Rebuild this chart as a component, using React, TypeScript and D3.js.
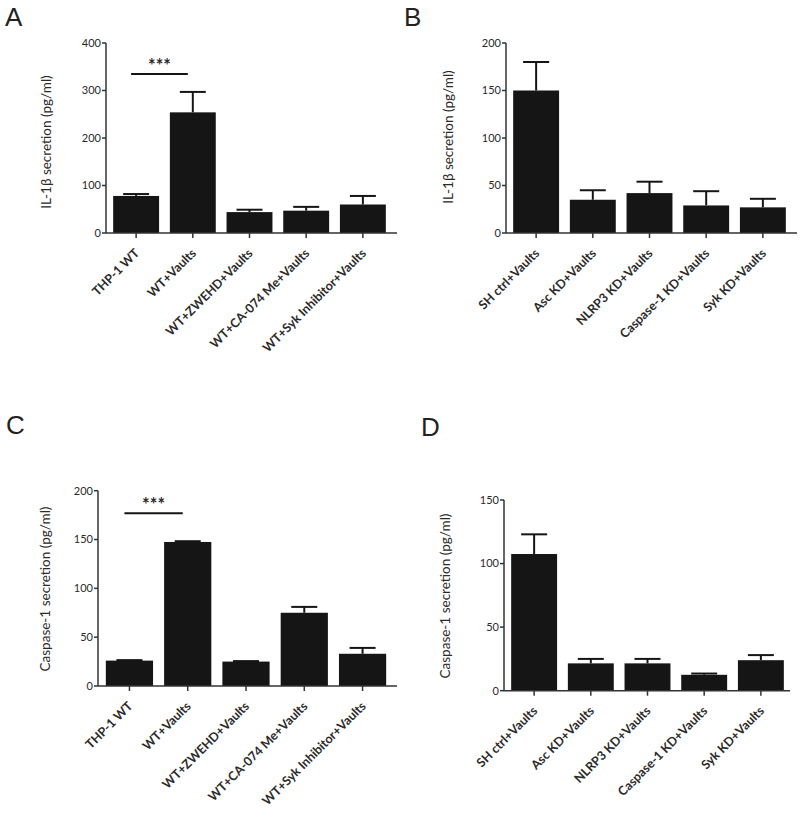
import React, { useEffect, useRef } from "react";
import * as d3 from "d3";

// ---- Data ----
const catsAC = ["THP-1 WT", "WT+Vaults", "WT+ZWEHD+Vaults", "WT+CA-074 Me+Vaults", "WT+Syk Inhibitor+Vaults"];
const catsBD = ["SH ctrl+Vaults", "Asc KD+Vaults", "NLRP3 KD+Vaults", "Caspase-1 KD+Vaults", "Syk KD+Vaults"];

const valA = [78, 254, 44, 47, 60];
const errA = [4, 43, 5, 8, 18];
const valB = [150, 35, 42, 29, 27];
const errB = [30, 10, 12, 15, 9];
const valC = [26, 147.5, 25, 75, 33];
const errC = [0.5, 0.8, 0.5, 6, 6];
const valD = [107.5, 21.5, 21.5, 12.5, 24];
const errD = [15.5, 3.5, 3.5, 1, 4];

const ticksA = [0, 100, 200, 300, 400];
const ticksB = [0, 50, 100, 150, 200];
const ticksC = [0, 50, 100, 150, 200];
const ticksD = [0, 50, 100, 150];

const labelIL = "IL-1β secretion (pg/ml)";
const labelCasp = "Caspase-1 secretion (pg/ml)";

type Panel = {
  letter: string; lx: number; ly: number;
  cats: string[]; vals: number[]; errs: number[]; ticks: number[];
  ylabel: string; ylx: number; yly: number;
  axisX: number; axisEnd: number; bandStart: number; bandEnd: number;
  yBottom: number; yTop: number;
  sig?: number; // value level of significance line
};

const panels: Panel[] = [
  { letter: "A", lx: 5, ly: 26, cats: catsAC, vals: valA, errs: errA, ticks: ticksA, ylabel: labelIL, ylx: 46, yly: 142,
    axisX: 106, axisEnd: 397, bandStart: 107.5, bandEnd: 391.5, yBottom: 233, yTop: 43, sig: 335 },
  { letter: "B", lx: 404, ly: 26, cats: catsBD, vals: valB, errs: errB, ticks: ticksB, ylabel: labelIL, ylx: 448, yly: 137,
    axisX: 506, axisEnd: 797, bandStart: 507.5, bandEnd: 791.5, yBottom: 233, yTop: 43 },
  { letter: "C", lx: 6, ly: 434, cats: catsAC, vals: valC, errs: errC, ticks: ticksC, ylabel: labelCasp, ylx: 45, yly: 589,
    axisX: 98, axisEnd: 397, bandStart: 100, bandEnd: 392, yBottom: 686, yTop: 490.7, sig: 177 },
  { letter: "D", lx: 421, ly: 436, cats: catsBD, vals: valD, errs: errD, ticks: ticksD, ylabel: labelCasp, ylx: 445, yly: 596,
    axisX: 504, axisEnd: 790, bandStart: 505.5, bandEnd: 789.5, yBottom: 690.7, yTop: 500 },
];

const INK = "#151515";
const TXT = "#2a2a2a";
const FONT = "Lato, 'Open Sans', sans-serif";

export default function App() {
  const ref = useRef<SVGSVGElement>(null);
  useEffect(() => {
    const svg = d3.select(ref.current);
    svg.selectAll("*").remove();
    svg.append("rect").attr("width", 800).attr("height", 817).attr("fill", "#fff");

    panels.forEach((p) => {
      const g = svg.append("g");
      const dmax = p.ticks[p.ticks.length - 1];
      const y = d3.scaleLinear().domain([0, dmax]).range([p.yBottom, p.yTop]);
      const x = d3.scaleBand<string>().domain(p.cats).range([p.bandStart, p.bandEnd])
        .paddingInner(0.19).paddingOuter(0.1);

      g.append("text").attr("x", p.lx).attr("y", p.ly).text(p.letter)
        .attr("font-family", "'Liberation Sans', Arial, sans-serif").attr("font-size", 26)
        .attr("fill", "#222");

      // bars
      p.cats.forEach((c, i) => {
        const v = p.vals[i];
        g.append("rect").attr("x", x(c)!).attr("width", x.bandwidth())
          .attr("y", y(v)).attr("height", y(0) - y(v)).attr("fill", INK);
        const cx = x(c)! + x.bandwidth() / 2;
        const top = y(v + p.errs[i]);
        g.append("line").attr("x1", cx).attr("x2", cx).attr("y1", y(v)).attr("y2", top)
          .attr("stroke", INK).attr("stroke-width", 2);
        g.append("line").attr("x1", cx - 13).attr("x2", cx + 13).attr("y1", top).attr("y2", top)
          .attr("stroke", INK).attr("stroke-width", 2);
      });

      // y axis
      g.append("line").attr("x1", p.axisX).attr("x2", p.axisX).attr("y1", y(0)).attr("y2", y(dmax))
        .attr("stroke", "#333").attr("stroke-width", 1.5);
      p.ticks.forEach((t) => {
        g.append("line").attr("x1", p.axisX - 4).attr("x2", p.axisX).attr("y1", y(t)).attr("y2", y(t))
          .attr("stroke", "#333").attr("stroke-width", 1.5);
        g.append("text").attr("x", p.axisX - 5).attr("y", y(t)).attr("dy", "0.35em")
          .attr("text-anchor", "end").attr("font-family", FONT).attr("font-size", 11)
          .attr("fill", TXT).text(String(t));
      });
      // x axis
      g.append("line").attr("x1", p.axisX).attr("x2", p.axisEnd).attr("y1", y(0)).attr("y2", y(0))
        .attr("stroke", "#333").attr("stroke-width", 1.5);
      p.cats.forEach((c) => {
        const cx = x(c)! + x.bandwidth() / 2;
        g.append("line").attr("x1", cx).attr("x2", cx).attr("y1", y(0)).attr("y2", y(0) + 5)
          .attr("stroke", "#333").attr("stroke-width", 1.5);
        const ax = cx + 4, ay = y(0) + 21;
        g.append("text").attr("transform", `translate(${ax},${ay}) rotate(-45)`)
          .attr("text-anchor", "end").attr("font-family", FONT).attr("font-size", 12.5)
          .attr("font-weight", "bold").attr("fill", TXT).text(c);
      });

      // y label
      g.append("text").attr("transform", `translate(${p.ylx},${p.yly}) rotate(-90)`)
        .attr("text-anchor", "middle").attr("dy", "0.35em").attr("font-family", FONT)
        .attr("font-size", 13.5).attr("fill", TXT).text(p.ylabel);

      // significance
      if (p.sig !== undefined) {
        const x1 = x(p.cats[0])! + x.bandwidth() / 2 - 5;
        const x2 = x(p.cats[1])! + x.bandwidth() / 2 - 5;
        const sy = y(p.sig);
        g.append("line").attr("x1", x1).attr("x2", x2).attr("y1", sy).attr("y2", sy)
          .attr("stroke", INK).attr("stroke-width", 2);
        g.append("text").attr("x", (x1 + x2) / 2).attr("y", sy - 2).attr("text-anchor", "middle")
          .attr("font-family", FONT).attr("font-size", 18).attr("font-weight", "bold")
          .attr("fill", TXT).text("***");
      }
    });
  }, []);
  return <svg ref={ref} width={800} height={817} style={{ display: "block", position: "absolute", left: 0, top: 0 }} />;
}
